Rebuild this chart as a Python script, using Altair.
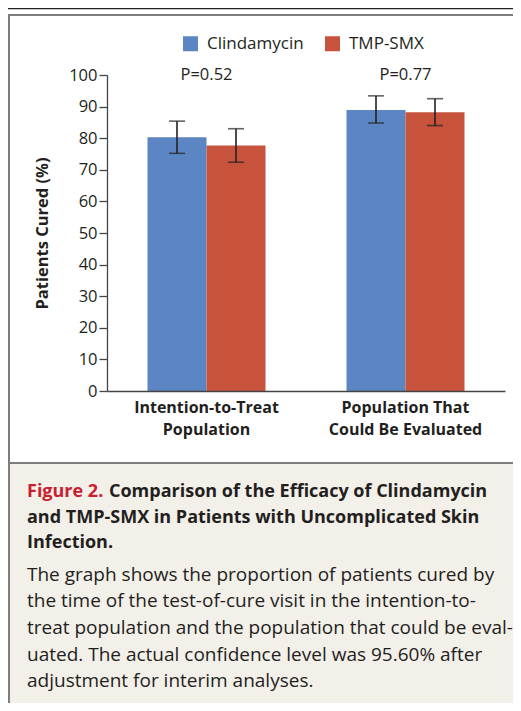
import altair as alt
import pandas as pd

# ---------------- data ----------------
groups = ["Intention-to-Treat Population", "Population That Could Be Evaluated"]
group_lines = [["Intention-to-Treat", "Population"], ["Population That", "Could Be Evaluated"]]
series = ["Clindamycin", "TMP-SMX"]
colors = ["#5b85c3", "#c8533c"]

cured = [80.3, 77.7, 88.9, 88.2]          # group-major order
ci_low = [75.2, 72.4, 84.8, 84.0]
ci_high = [85.4, 83.0, 93.4, 92.5]
p_values = ["P=0.52", "P=0.77"]

y_ticks = list(range(0, 101, 10))

title_red = "Figure 2."
title_rest_1 = "Comparison of the Efficacy of Clindamycin"
title_lines = ["and TMP-SMX in Patients with Uncomplicated Skin", "Infection."]
body_lines = [
    "The graph shows the proportion of patients cured by",
    "the time of the test-of-cure visit in the intention-to-",
    "treat population and the population that could be eval-",
    "uated. The actual confidence level was 95.60% after",
    "adjustment for interim analyses.",
]

FONT = "Open Sans"
INK = "#231f20"

rows = []
k = 0
for g in groups:
    for s in series:
        rows.append({"group": g, "series": s, "cured": cured[k],
                     "lo": ci_low[k], "hi": ci_high[k]})
        k += 1
df = pd.DataFrame(rows)
pdf = pd.DataFrame({"group": groups, "p": p_values})
one = pd.DataFrame({"a": [0]})

# label expression for two-line category labels
label_expr = " : ".join(
    [f"datum.value == '{g}' ? ['{l[0]}', '{l[1]}']" for g, l in zip(groups, group_lines)]
) + " : datum.value"

x_scale = alt.Scale(domain=groups, paddingInner=0.407, paddingOuter=0.2035)
xoff = alt.XOffset("series:N", sort=series, scale=alt.Scale(paddingInner=0, paddingOuter=0))
y_scale = alt.Scale(domain=[0, 100], nice=False)

X_AXIS = alt.Axis(title=None, labelAngle=0, ticks=False, labelPadding=8, grid=False,
                  labelFont=FONT, labelFontSize=16, labelFontWeight="bold",
                  labelColor=INK, labelLineHeight=22, labelExpr=label_expr,
                  domainColor="#444444", domainWidth=1.3, zindex=1)
Y_AXIS = alt.Axis(values=y_ticks, title="Patients Cured (%)", grid=False,
                  labelOverlap=False, tickCount=11,
                  tickSize=8, tickColor="#444444", tickWidth=1.3,
                  domainColor="#444444", domainWidth=1.3,
                  labelFont=FONT, labelFontSize=16.5, labelColor=INK, labelPadding=2,
                  titleFont=FONT, titleFontSize=16.5, titleFontWeight="bold",
                  titleColor=INK, titlePadding=18, zindex=1)

def xenc():
    return alt.X("group:N", scale=x_scale, sort=groups, axis=X_AXIS)

def yenc(field):
    return alt.Y(field, type="quantitative", scale=y_scale, axis=Y_AXIS)

# ------------- decoration (frame, caption panel) -------------
caption_bg = alt.Chart(one).mark_rect(color="#f3f0ea").encode(
    x=alt.value(-97), x2=alt.value(420), y=alt.value(389), y2=alt.value(640))
frame = alt.Chart(one).mark_rect(fill=None, stroke="#7d7d7d", strokeWidth=2).encode(
    x=alt.value(-98), x2=alt.value(430), y=alt.value(-60), y2=alt.value(660))
divider = alt.Chart(one).mark_rule(color="#7d7d7d", strokeWidth=2).encode(
    x=alt.value(-98), x2=alt.value(420), y=alt.value(388))
topline = alt.Chart(one).mark_rule(color="#222222", strokeWidth=1.2).encode(
    x=alt.value(-99), x2=alt.value(420), y=alt.value(-66.4))

# ------------- bars -------------
bars = alt.Chart(df).mark_bar().encode(
    x=xenc(),
    xOffset=xoff,
    y=yenc("cured"),
    color=alt.Color("series:N", sort=series,
                    scale=alt.Scale(domain=series, range=colors),
                    legend=alt.Legend(title=None, orient="none", direction="horizontal",
                                      legendX=75, legendY=-40, symbolType="square",
                                      symbolSize=225, symbolStrokeWidth=0, symbolOpacity=1,
                                      labelFont=FONT, labelFontSize=17, labelColor=INK,
                                      labelOffset=8, columnPadding=20, padding=0)),
)

err = alt.Chart(df).mark_rule(color="#222222", strokeWidth=1.6).encode(
    x=xenc(), xOffset=xoff, y=yenc("lo"), y2="hi:Q")
cap_lo = alt.Chart(df).mark_tick(color="#222222", size=16, thickness=1.6).encode(
    x=xenc(), xOffset=xoff, y=yenc("lo"))
cap_hi = alt.Chart(df).mark_tick(color="#222222", size=16, thickness=1.6).encode(
    x=xenc(), xOffset=xoff, y=yenc("hi"))

ptext = alt.Chart(pdf).mark_text(font=FONT, fontSize=16.5, color=INK, baseline="middle").encode(
    x=xenc(), y=alt.Y(datum=100, scale=y_scale, axis=Y_AXIS), text="p:N")

# ------------- caption text -------------
CX = -80
t_red = alt.Chart(one).mark_text(font=FONT, fontSize=18, fontWeight="bold", color="#c8202f",
                                 align="left", baseline="alphabetic").encode(
    x=alt.value(CX), y=alt.value(421.7), text=alt.value(title_red))
t_rest = alt.Chart(one).mark_text(font=FONT, fontSize=18, fontWeight="bold", color=INK,
                                  align="left", baseline="alphabetic").encode(
    x=alt.value(2), y=alt.value(421.7), text=alt.value(title_rest_1))
t_more = alt.Chart(one).mark_text(font=FONT, fontSize=18, fontWeight="bold", color=INK,
                                  align="left", baseline="alphabetic", lineBreak="\n",
                                  lineHeight=25.8).encode(
    x=alt.value(CX), y=alt.value(447.5), text=alt.value("\n".join(title_lines)))
t_body = alt.Chart(one).mark_text(font=FONT, fontSize=19, color=INK,
                                  align="left", baseline="alphabetic", lineBreak="\n",
                                  lineHeight=26.67).encode(
    x=alt.value(CX), y=alt.value(505.7), text=alt.value("\n".join(body_lines)))

chart = alt.layer(
    caption_bg, frame, divider, topline,
    bars, err, cap_lo, cap_hi, ptext,
    t_red, t_rest, t_more, t_body,
).properties(
    width=398, height=316,
    autosize=alt.AutoSizeParams(type="none"),
    padding={"left": 99, "top": 67, "right": 8, "bottom": 312},
).configure(
    font=FONT, background="white",
    view=alt.ViewConfig(strokeWidth=0, stroke="transparent"),
    axis=alt.AxisConfig(grid=False),
)

chart.save("out.html", embed_options={"renderer": "svg", "actions": False})
